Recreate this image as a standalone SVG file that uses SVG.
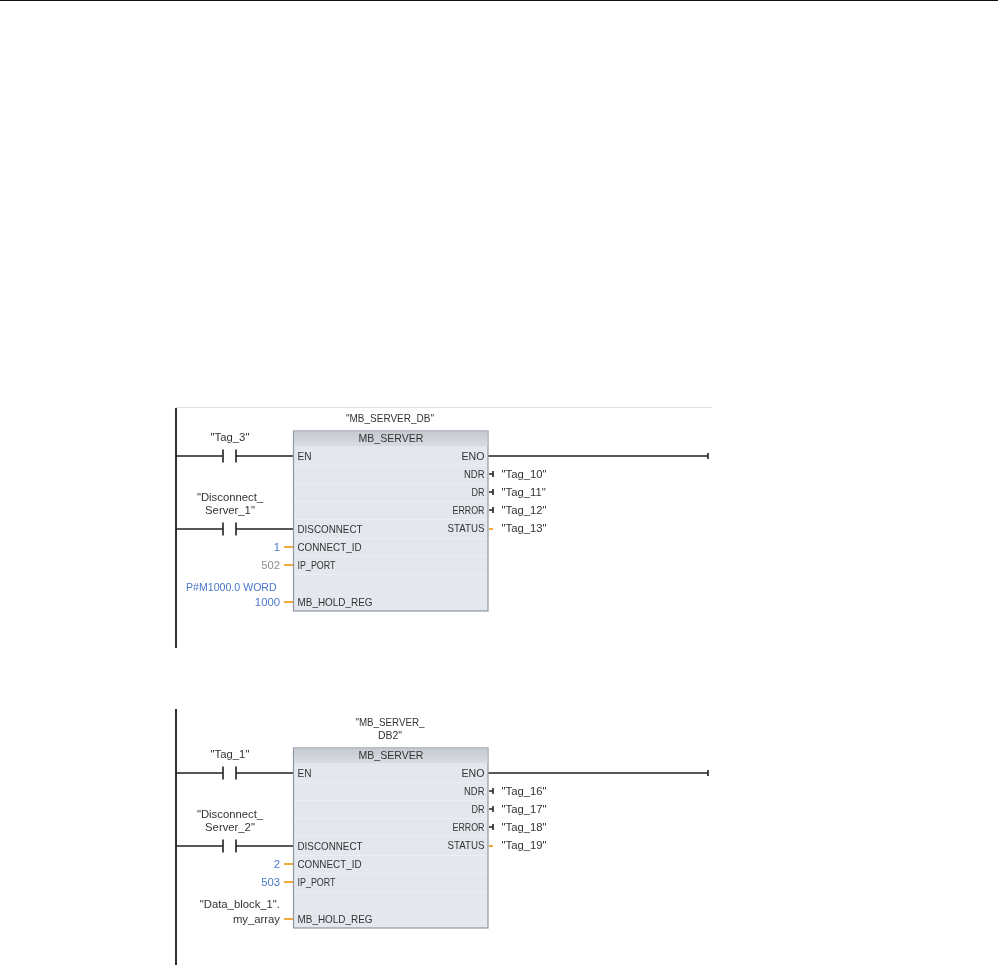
<svg xmlns="http://www.w3.org/2000/svg" width="998" height="965" viewBox="0 0 998 965">
<defs>
<linearGradient id="hd" x1="0" y1="0" x2="0" y2="1"><stop offset="0" stop-color="#c6cad1"/><stop offset="1" stop-color="#d9dce2"/></linearGradient>
<filter id="soft" x="-2%" y="-2%" width="104%" height="104%"><feGaussianBlur stdDeviation="0.4"/></filter>
</defs>
<style>
text{font-family:"Liberation Sans",Arial,sans-serif;font-size:10.600px;fill:#333}
.l{font-size:11.300px}
.m{text-anchor:middle}.e{text-anchor:end}
.b{fill:#4a78c8}.g{fill:#8f8f8f}
.box{fill:#e4e7ed;stroke:#8f97a3;stroke-width:1.2}
.hd{fill:url(#hd)}
.sep{stroke:#eceef2;stroke-width:1}
.w{stroke:#222;stroke-width:1.6;fill:none}
.r{stroke:#333;stroke-width:2;fill:none}
.c{stroke:#222;stroke-width:1.600;fill:none}
.o{stroke:#f2a93b;stroke-width:2;fill:none}
</style>
<line x1="0" y1="0.5" x2="998" y2="0.5" stroke="#111" stroke-width="1.2"/>
<g filter="url(#soft)">
<g id="connectors">
<line x1="176" y1="407.5" x2="712" y2="407.5" stroke="#dfe1e4" stroke-width="1"/>
<path class="r" d="M176 408V648"/>
<path class="w" d="M176 456H223M236 456H293M176 529H223M236 529H293M488 456H708"/>
<path class="c" d="M223 449.500V462.500M236 449.500V462.500M223 522.500V535.500M236 522.500V535.500M708 453V459"/>
<path class="o" d="M284 547H293M284 565H293M284 602H293M489 529H493"/>
<path class="c" d="M489 474H493M489 492H493M489 510H493M493 471V477M493 489V495M493 507V513"/>
<path class="r" d="M176 709V965"/>
<path class="w" d="M176 773H223M236 773H293M176 846H223M236 846H293M488 773H708"/>
<path class="c" d="M223 766.500V779.500M236 766.500V779.500M223 839.500V852.500M236 839.500V852.500M708 770V776"/>
<path class="o" d="M284 864H293M284 882H293M284 919H293M489 846H493"/>
<path class="c" d="M489 791H493M489 809H493M489 827H493M493 788V794M493 806V812M493 824V830"/>
</g>
<g id="block1">
<rect class="box" x="293.500" y="431" width="194.500" height="180"/>
<rect class="hd" x="294" y="431.500" width="193.500" height="14.500"/>
<path class="sep" d="M294 465.500H487M294 483.500H487M294 501.500H487M294 519.500H487M294 538.500H487M294 556.500H487M294 574.500H487"/>
<text class="m" x="391" y="442" textLength="65" lengthAdjust="spacingAndGlyphs">MB_SERVER</text>
<text x="297.500" y="460" textLength="14" lengthAdjust="spacingAndGlyphs">EN</text>
<text x="297.500" y="533" textLength="65" lengthAdjust="spacingAndGlyphs">DISCONNECT</text>
<text x="297.500" y="551" textLength="64" lengthAdjust="spacingAndGlyphs">CONNECT_ID</text>
<text x="297.500" y="569" textLength="38" lengthAdjust="spacingAndGlyphs">IP_PORT</text>
<text x="297.500" y="606" textLength="75" lengthAdjust="spacingAndGlyphs">MB_HOLD_REG</text>
<text class="e" x="484.500" y="460" textLength="23" lengthAdjust="spacingAndGlyphs">ENO</text>
<text class="e" x="484.500" y="478" textLength="20.500" lengthAdjust="spacingAndGlyphs">NDR</text>
<text class="e" x="484.500" y="496" textLength="13" lengthAdjust="spacingAndGlyphs">DR</text>
<text class="e" x="484.500" y="514" textLength="32" lengthAdjust="spacingAndGlyphs">ERROR</text>
<text class="e" x="484.500" y="532" textLength="37" lengthAdjust="spacingAndGlyphs">STATUS</text>
</g>
<g id="block1-labels">
<text class="m" x="390" y="422" textLength="88" lengthAdjust="spacingAndGlyphs">"MB_SERVER_DB"</text>
<text class="m l" x="230" y="441">"Tag_3"</text>
<text class="m l" x="230" y="501">"Disconnect_</text>
<text class="m l" x="230" y="514">Server_1"</text>
<text class="e b l" x="280" y="551">1</text>
<text class="e g l" x="280" y="569">502</text>
<text class="b" x="186" y="591">P#M1000.0 WORD</text>
<text class="e b l" x="280" y="606">1000</text>
<text class="l" x="501.500" y="478">"Tag_10"</text>
<text class="l" x="501.500" y="496">"Tag_11"</text>
<text class="l" x="501.500" y="514">"Tag_12"</text>
<text class="l" x="501.500" y="532">"Tag_13"</text>
</g>
<g id="block2">
<rect class="box" x="293.500" y="748" width="194.500" height="180"/>
<rect class="hd" x="294" y="748.500" width="193.500" height="14.500"/>
<path class="sep" d="M294 782.500H487M294 800.500H487M294 818.500H487M294 836.500H487M294 855.500H487M294 873.500H487M294 891.500H487"/>
<text class="m" x="391" y="759" textLength="65" lengthAdjust="spacingAndGlyphs">MB_SERVER</text>
<text x="297.500" y="777" textLength="14" lengthAdjust="spacingAndGlyphs">EN</text>
<text x="297.500" y="850" textLength="65" lengthAdjust="spacingAndGlyphs">DISCONNECT</text>
<text x="297.500" y="868" textLength="64" lengthAdjust="spacingAndGlyphs">CONNECT_ID</text>
<text x="297.500" y="886" textLength="38" lengthAdjust="spacingAndGlyphs">IP_PORT</text>
<text x="297.500" y="923" textLength="75" lengthAdjust="spacingAndGlyphs">MB_HOLD_REG</text>
<text class="e" x="484.500" y="777" textLength="23" lengthAdjust="spacingAndGlyphs">ENO</text>
<text class="e" x="484.500" y="795" textLength="20.500" lengthAdjust="spacingAndGlyphs">NDR</text>
<text class="e" x="484.500" y="813" textLength="13" lengthAdjust="spacingAndGlyphs">DR</text>
<text class="e" x="484.500" y="831" textLength="32" lengthAdjust="spacingAndGlyphs">ERROR</text>
<text class="e" x="484.500" y="849" textLength="37" lengthAdjust="spacingAndGlyphs">STATUS</text>
</g>
<g id="block2-labels">
<text class="m" x="390" y="725.500" textLength="69" lengthAdjust="spacingAndGlyphs">"MB_SERVER_</text>
<text class="m" x="390" y="738.500" textLength="24" lengthAdjust="spacingAndGlyphs">DB2"</text>
<text class="m l" x="230" y="758">"Tag_1"</text>
<text class="m l" x="230" y="818">"Disconnect_</text>
<text class="m l" x="230" y="831">Server_2"</text>
<text class="e b l" x="280" y="868">2</text>
<text class="e b l" x="280" y="886">503</text>
<text class="e l" x="280" y="908">"Data_block_1".</text>
<text class="e l" x="280" y="923">my_array</text>
<text class="l" x="501.500" y="795">"Tag_16"</text>
<text class="l" x="501.500" y="813">"Tag_17"</text>
<text class="l" x="501.500" y="831">"Tag_18"</text>
<text class="l" x="501.500" y="849">"Tag_19"</text>
</g>
</g>
</svg>
